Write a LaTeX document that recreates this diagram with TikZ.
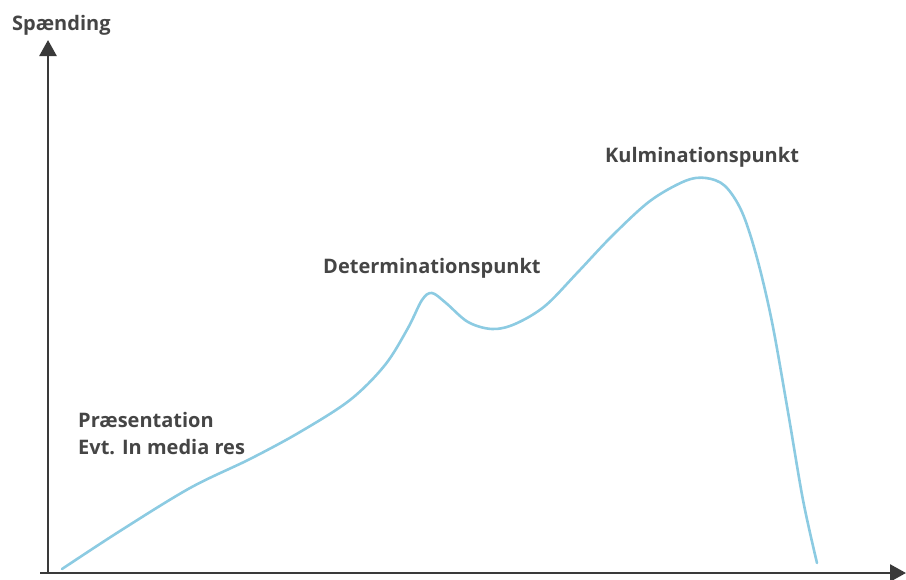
\documentclass[tikz,border=0pt]{standalone}
\usepackage{fontspec}
\setmainfont{Open Sans}
\usetikzlibrary{arrows.meta}
\definecolor{axisgray}{HTML}{3A3A3A}
\definecolor{textgray}{HTML}{454545}
\definecolor{curveblue}{HTML}{8CCBE2}
\tikzset{
  axis/.style={draw=axisgray, line width=2.6pt, -{Triangle[length=16pt,width=17pt]}},
  lbl/.style={text=textgray, font=\bfseries\fontsize{20}{27}\selectfont, inner sep=0pt, anchor=base west},
  curve/.style={draw=curveblue, line width=2.6pt, line cap=round, line join=round}
}
\begin{document}
\begin{tikzpicture}[x=1pt,y=-1pt]
\useasboundingbox (0,0) rectangle (906,579);
\coordinate (o) at (48,573);
\coordinate (ytip) at (48,40);
\coordinate (xstart) at (40,573);
\coordinate (xtip) at (906,573);
\draw[axis] (o) -- (ytip);
\draw[axis] (xstart) -- (xtip);
\node[lbl] (yl) at (12,30) {Spænding};
\node[lbl] (pres) at (78,427) {Præsentation};
\node[lbl] (evt) at (78,454) {Evt. In media res};
\node[lbl] (det) at (323,273) {Determinationspunkt};
\node[lbl] (kul) at (605,162) {Kulminationspunkt};
\draw[curve] plot[smooth, tension=0.55] coordinates {
 (62,569) (120,531) (190,488) (250,459) (300,432) (350,400) (385,365) (408,328) (422,300) (432,293) (446,303) (468,322) (492,329) (515,324) (545,306) (578,272) (612,236) (650,201) (685,181) (706,178) (725,186) (742,212) (757,258) (772,322) (788,412) (803,500) (817,563)};
\end{tikzpicture}
\end{document}
